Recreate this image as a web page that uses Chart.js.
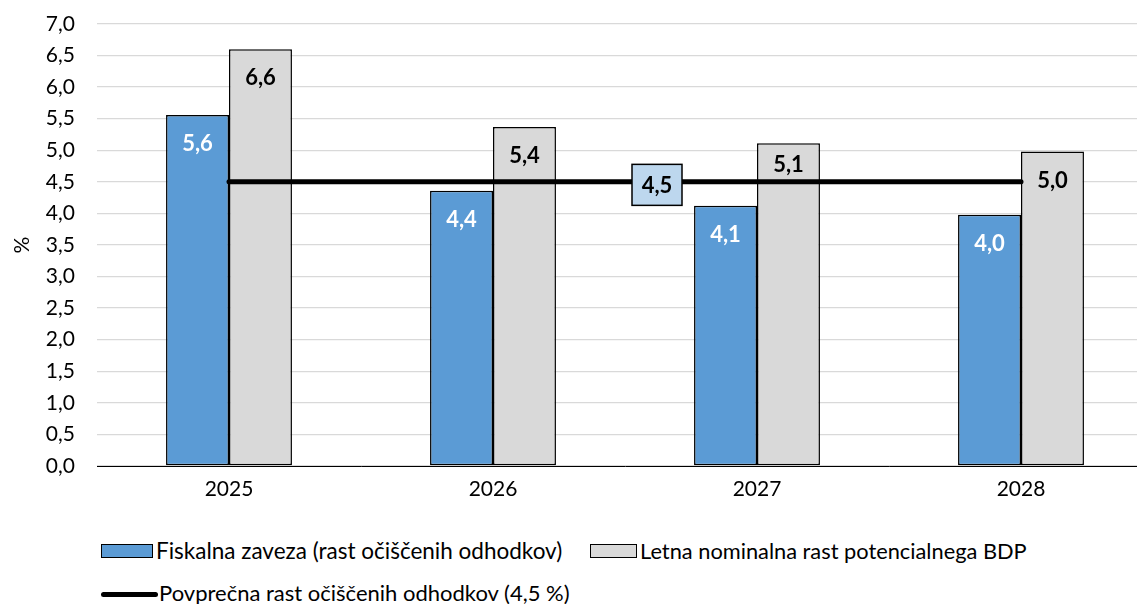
<!DOCTYPE html>
<html><head><meta charset="utf-8">
<script src="https://cdn.jsdelivr.net/npm/chart.js@4.4.1/dist/chart.umd.min.js"></script>
<style>
html,body{margin:0;padding:0;background:#fff;overflow:hidden;width:1137px;height:604px;}
#wrap{position:relative;width:1137px;height:604px;overflow:hidden;font-family:Lato,sans-serif;}
#c{position:absolute;left:0;top:0;}
.txt{position:absolute;font-size:22px;color:#000;white-space:nowrap;line-height:26px;}
.box{position:absolute;box-sizing:border-box;border:1.5px solid #000;}
.ln{position:absolute;height:5px;background:#000;border-radius:3px;}
</style></head>
<body><div id="wrap">
<canvas id="c" width="1153" height="520"></canvas>
<div class="box" style="left:101px;top:544px;width:52px;height:14px;background:#5B9BD5"></div>
<div class="txt" style="left:156px;top:538px;font-size:22.5px">Fiskalna zaveza (rast očiščenih odhodkov)</div>
<div class="box" style="left:590px;top:544px;width:47px;height:14px;background:#D9D9D9"></div>
<div class="txt" style="left:640px;top:538px;font-size:21.8px">Letna nominalna rast potencialnega BDP</div>
<div class="ln" style="left:101px;top:592px;width:57px"></div>
<div class="txt" style="left:159px;top:580px">Povprečna rast očiščenih odhodkov (4,5 %)</div>
</div>
<script>
const categories = ['2025', '2026', '2027', '2028'];
const fiskalnaZaveza = [5.56, 4.36, 4.12, 3.98];
const letnaRast = [6.60, 5.37, 5.11, 4.98];
const povprecnaRast = [4.5, 4.5, 4.5, 4.5];
const seriesNames = ['Fiskalna zaveza (rast očiščenih odhodkov)', 'Letna nominalna rast potencialnega BDP', 'Povprečna rast očiščenih odhodkov (4,5 %)'];
const yMin = 0, yMax = 7, yStep = 0.5;
const lineLabelIndex = 2;
// label offset below bar top (px), per series/category
const labelOffsets = [[29, 29, 29, 29], [29, 29, 22, 29]];

const fmt = v => v.toFixed(1).replace('.', ',');
const FONT = 'Lato, sans-serif';

const labelPlugin = {
  id: 'labels',
  afterDatasetsDraw(chart) {
    const ctx = chart.ctx;
    ctx.save();
    ctx.font = 'bold 22px ' + FONT;
    ctx.textAlign = 'center';
    ctx.textBaseline = 'middle';
    [0, 1].forEach(di => {
      const meta = chart.getDatasetMeta(di);
      const ds = chart.data.datasets[di];
      meta.data.forEach((bar, i) => {
        ctx.fillStyle = di === 0 ? '#fff' : '#000';
        ctx.fillText(fmt(ds.data[i]), bar.x, bar.y + labelOffsets[di][i]);
      });
    });
    const lmeta = chart.getDatasetMeta(2);
    const pt = lmeta.data[lineLabelIndex];
    const cx = pt.x - 100, cy = pt.y + 3;
    const w = 50, h = 41;
    ctx.fillStyle = '#BDD7EE';
    ctx.fillRect(cx - w / 2, cy - h / 2, w, h);
    ctx.lineWidth = 1.5;
    ctx.strokeStyle = '#000';
    ctx.strokeRect(cx - w / 2, cy - h / 2, w, h);
    ctx.fillStyle = '#000';
    ctx.fillText(fmt(chart.data.datasets[2].data[lineLabelIndex]), cx, cy + 1);
    ctx.restore();
  }
};

new Chart(document.getElementById('c'), {
  type: 'bar',
  data: {
    labels: categories,
    datasets: [
      { label: seriesNames[0], data: fiskalnaZaveza, backgroundColor: '#5B9BD5', borderColor: '#000', borderWidth: 1.5, borderSkipped: false, order: 2, categoryPercentage: 0.477, barPercentage: 1.0 },
      { label: seriesNames[1], data: letnaRast, backgroundColor: '#D9D9D9', borderColor: '#000', borderWidth: 1.5, borderSkipped: false, order: 2, categoryPercentage: 0.477, barPercentage: 1.0 },
      { type: 'line', label: seriesNames[2], data: povprecnaRast, borderColor: '#000', borderWidth: 5, pointRadius: 0, borderCapStyle: 'round', fill: false, order: 1 }
    ]
  },
  options: {
    responsive: false,
    animation: false,
    layout: { padding: { top: 24, left: 0, right: 0, bottom: 0 } },
    plugins: { legend: { display: false }, tooltip: { enabled: false } },
    scales: {
      x: {
        grid: { display: false, drawTicks: false },
        border: { display: true, color: '#000', width: 1 },
        ticks: { color: '#000', font: { family: FONT, size: 21 }, padding: 11 },
        afterFit(s) { s.height = 54; }
      },
      y: {
        min: yMin, max: yMax,
        grid: { color: '#D9D9D9', lineWidth: 1.3, drawTicks: false },
        border: { display: false },
        ticks: { stepSize: yStep, color: '#000', font: { family: FONT, size: 21 }, padding: 22, callback: v => fmt(v) },
        title: { display: true, text: '%', color: '#000', font: { family: FONT, size: 21 }, padding: { top: 10, bottom: 0 } },
        afterFit(s) { s.width = 97; s.paddingTop = 0; s.paddingBottom = 0; }
      }
    }
  },
  plugins: [labelPlugin]
});
</script>
</body></html>
